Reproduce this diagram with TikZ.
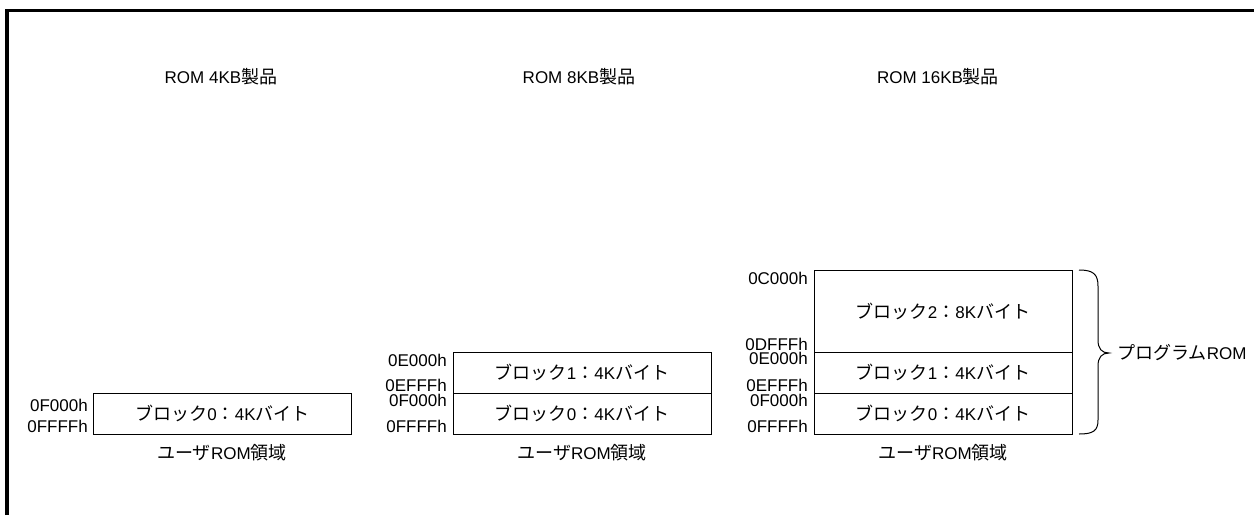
\documentclass[tikz,border=0pt]{standalone}
\usepackage{fontspec}
\setmainfont{Liberation Sans}
\newfontfamily\jpfont{Noto Sans CJK JP}[Scale=1.06]
\newcommand\J[1]{{\jpfont #1}}
\begin{document}
\begin{tikzpicture}[x=1pt,y=-1pt, font=\fontsize{17}{20}\selectfont,
  blk/.style={draw, line width=1pt, minimum width=258pt, minimum height=41pt, inner sep=0pt, outer sep=0pt},
  addr/.style={anchor=base east, inner sep=0pt},
  ttl/.style={anchor=base, inner sep=0pt},
  frameline/.style={line width=3.5pt, line join=miter},
  bracel/.style={line width=1pt}]
\useasboundingbox (0,0) rectangle (1254,515);
\draw[frameline] (7,515) -- (7,10.5) -- (1254,10.5);

% titles
\node[ttl] (t4)  at (221,83) {ROM 4KB\J{製品}};
\node[ttl] (t8)  at (579,83) {ROM 8KB\J{製品}};
\node[ttl] (t16) at (938,83) {ROM 16KB\J{製品}};

% 4KB
\node[blk] (a0) at (222.5,413.5) {\J{ブロック}0\J{：}4K\J{バイト}};
\node[addr] (a0s) at (88,411.5) {0F000h};
\node[addr] (a0e) at (88,432.5) {0FFFFh};
\node[ttl] (au) at (222,459) {\J{ユーザ}ROM\J{領域}};

% 8KB
\node[blk] (b1) at (582,372.5) {\J{ブロック}1\J{：}4K\J{バイト}};
\node[blk] (b0) at (582,413.5) {\J{ブロック}0\J{：}4K\J{バイト}};
\node[addr] (b1s) at (447,366) {0E000h};
\node[addr] (b1e) at (447,391) {0EFFFh};
\node[addr] (b0s) at (447,406) {0F000h};
\node[addr] (b0e) at (447,432.5) {0FFFFh};
\node[ttl] (bu) at (582,459) {\J{ユーザ}ROM\J{領域}};

% 16KB
\node[blk, minimum height=82pt] (c2) at (943,311) {\J{ブロック}2\J{：}8K\J{バイト}};
\node[blk] (c1) at (943,372.5) {\J{ブロック}1\J{：}4K\J{バイト}};
\node[blk] (c0) at (943,413.5) {\J{ブロック}0\J{：}4K\J{バイト}};
\node[addr] (c2s) at (808,284) {0C000h};
\node[addr] (c2e) at (808,350) {0DFFFh};
\node[addr] (c1s) at (808,364.5) {0E000h};
\node[addr] (c1e) at (808,391.5) {0EFFFh};
\node[addr] (c0s) at (808,406) {0F000h};
\node[addr] (c0e) at (808,432.5) {0FFFFh};
\node[ttl] (cu) at (943,459) {\J{ユーザ}ROM\J{領域}};

% brace
\coordinate (btop) at (1079,270);
\coordinate (btip) at (1109,353);
\coordinate (bbot) at (1079,434);
\draw[bracel] (btop) .. controls (1093,270) and (1098,274) .. (1098,286) -- (1098,340)
  .. controls (1098,349) and (1102,353) .. (btip)
  .. controls (1102,353) and (1098,357) .. (1098,366) -- (1098,420)
  .. controls (1098,431) and (1093,434) .. (bbot);
\node[anchor=west, inner sep=0pt] (prog) at (1117,353) {\J{プログラム}ROM};
\end{tikzpicture}
\end{document}
